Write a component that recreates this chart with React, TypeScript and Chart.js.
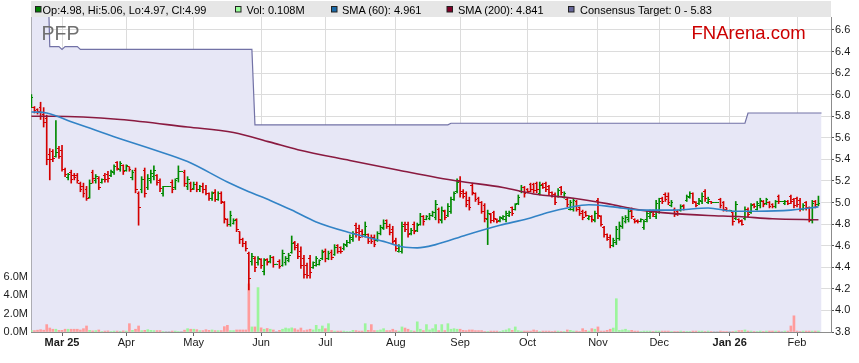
import React, { useEffect, useRef } from 'react';
import { Chart, registerables } from 'chart.js';

Chart.register(...registerables);

const FONT = "'Liberation Sans', Arial, Helvetica, sans-serif";

// weekday index of the first bar (index 0 = Mon 3 Mar 2025)
const FIRST_INDEX = -10;

// [open, high, low, close] per weekday, from 17 Feb 2025 to 11 Feb 2026
const OHLC: number[][] = [
  [5.90,6.00,5.88,5.97],[5.88,5.89,5.83,5.85],[5.86,5.87,5.82,5.84],[5.88,5.93,5.77,5.80],[5.82,5.88,5.70,5.74],[5.78,5.81,5.35,5.40],[5.45,5.50,5.21,5.40],[5.47,5.49,5.38,5.41],[5.43,5.76,5.42,5.46],[5.50,5.52,5.41,5.43],
  [5.48,5.53,5.29,5.31],[5.31,5.32,5.24,5.26],[5.23,5.27,5.21,5.26],[5.28,5.30,5.18,5.21],[5.25,5.27,5.21,5.23],[5.25,5.27,5.18,5.20],[5.18,5.19,5.10,5.12],[5.15,5.18,5.05,5.08],[5.12,5.15,5.02,5.04],[5.05,5.21,5.04,5.18],
  [5.28,5.30,5.18,5.22],[5.20,5.26,5.18,5.24],[5.22,5.24,5.12,5.14],[5.19,5.22,5.18,5.21],[5.25,5.27,5.19,5.21],[5.26,5.29,5.19,5.22],[5.25,5.30,5.24,5.29],[5.28,5.35,5.26,5.33],[5.37,5.38,5.30,5.32],[5.31,5.38,5.29,5.36],
  [5.34,5.35,5.26,5.29],[5.30,5.35,5.29,5.34],[5.33,5.33,5.29,5.31],[5.23,5.30,5.21,5.28],[5.30,5.32,5.09,5.12],[5.08,5.10,4.79,4.95],[5.12,5.24,5.09,5.21],[5.30,5.32,5.05,5.08],[5.14,5.26,5.12,5.22],[5.20,5.30,5.18,5.27],
  [5.24,5.34,5.21,5.30],[5.25,5.26,5.16,5.19],[5.20,5.22,5.10,5.13],[5.08,5.15,5.06,5.15],[5.15,5.15,5.15,5.15],[5.15,5.15,5.15,5.15],[5.19,5.21,5.09,5.12],[5.14,5.22,5.12,5.20],[5.22,5.34,5.19,5.29],[5.29,5.29,5.29,5.29],
  [5.28,5.30,5.15,5.18],[5.15,5.24,5.12,5.21],[5.18,5.19,5.10,5.12],[5.13,5.19,5.12,5.17],[5.17,5.19,5.10,5.12],[5.12,5.16,5.10,5.15],[5.15,5.18,5.09,5.12],[5.12,5.16,5.07,5.08],[5.08,5.09,5.02,5.04],[5.04,5.10,5.02,5.08],
  [5.09,5.12,5.01,5.03],[5.03,5.10,5.02,5.08],[5.08,5.10,4.99,5.01],[5.00,5.01,4.81,4.85],[4.84,4.85,4.78,4.80],[4.80,4.92,4.78,4.88],[4.81,4.85,4.80,4.83],[4.84,4.85,4.73,4.75],[4.73,4.73,4.62,4.66],[4.66,4.67,4.59,4.62],
  [4.62,4.64,4.55,4.57],[4.53,4.54,4.19,4.30],[4.45,4.53,4.42,4.50],[4.48,4.50,4.36,4.40],[4.44,4.50,4.42,4.48],[4.47,4.48,4.39,4.42],[4.36,4.48,4.33,4.46],[4.47,4.48,4.42,4.44],[4.45,4.51,4.44,4.49],[4.49,4.50,4.40,4.43],
  [4.43,4.43,4.43,4.43],[4.45,4.47,4.39,4.41],[4.42,4.56,4.41,4.53],[4.44,4.50,4.42,4.48],[4.46,4.53,4.45,4.51],[4.54,4.69,4.53,4.62],[4.63,4.64,4.56,4.58],[4.60,4.62,4.48,4.50],[4.55,4.59,4.39,4.42],[4.48,4.51,4.30,4.33],
  [4.42,4.44,4.30,4.32],[4.48,4.51,4.30,4.35],[4.40,4.45,4.39,4.44],[4.42,4.50,4.41,4.48],[4.43,4.47,4.42,4.46],[4.48,4.56,4.47,4.54],[4.55,4.57,4.45,4.48],[4.48,4.55,4.47,4.53],[4.54,4.56,4.47,4.49],[4.52,4.61,4.51,4.58],
  [4.60,4.61,4.53,4.55],[4.58,4.59,4.53,4.55],[4.57,4.62,4.56,4.61],[4.60,4.65,4.59,4.63],[4.63,4.70,4.62,4.68],[4.66,4.73,4.64,4.71],[4.79,4.81,4.68,4.72],[4.76,4.79,4.65,4.68],[4.73,4.75,4.68,4.70],[4.70,4.82,4.68,4.78],
  [4.70,4.71,4.62,4.64],[4.68,4.70,4.62,4.64],[4.68,4.70,4.59,4.61],[4.65,4.73,4.64,4.71],[4.71,4.79,4.70,4.77],[4.76,4.84,4.75,4.81],[4.83,4.84,4.76,4.78],[4.78,4.80,4.70,4.72],[4.75,4.78,4.62,4.64],[4.65,4.67,4.55,4.57],
  [4.55,4.61,4.54,4.59],[4.55,4.82,4.53,4.78],[4.80,4.82,4.73,4.75],[4.80,4.82,4.68,4.70],[4.71,4.76,4.70,4.74],[4.80,4.82,4.71,4.73],[4.74,4.81,4.73,4.79],[4.80,4.90,4.79,4.87],[4.87,4.88,4.79,4.82],[4.84,4.88,4.84,4.87],
  [4.85,4.90,4.84,4.88],[4.88,4.92,4.87,4.91],[4.86,5.02,4.84,4.98],[4.94,4.95,4.81,4.84],[4.83,4.96,4.81,4.93],[4.92,4.93,4.84,4.86],[4.88,4.99,4.87,4.96],[4.92,5.05,4.90,5.03],[5.03,5.10,5.02,5.08],[5.10,5.22,5.09,5.19],
  [5.20,5.24,5.05,5.08],[5.10,5.12,5.04,5.06],[5.08,5.10,4.96,4.98],[5.02,5.05,4.93,4.95],[5.16,5.18,5.07,5.09],[5.08,5.09,5.01,5.03],[5.04,5.05,4.98,5.00],[5.00,5.01,4.90,4.92],[4.97,4.99,4.82,4.85],[4.84,4.93,4.61,4.90],
  [4.89,4.90,4.81,4.83],[4.91,4.92,4.82,4.85],[4.84,4.85,4.81,4.82],[4.83,4.87,4.82,4.86],[4.85,4.88,4.84,4.87],[4.84,4.92,4.82,4.90],[4.88,4.92,4.87,4.91],[4.95,4.96,4.88,4.90],[4.94,4.99,4.93,4.98],[4.99,5.07,4.98,5.05],
  [5.10,5.16,5.09,5.14],[5.14,5.15,5.05,5.08],[5.12,5.13,5.09,5.10],[5.17,5.18,5.10,5.12],[5.17,5.18,5.09,5.11],[5.18,5.19,5.09,5.12],[5.08,5.19,5.07,5.16],[5.17,5.18,5.13,5.14],[5.18,5.19,5.10,5.12],[5.15,5.16,5.07,5.09],
  [5.09,5.10,5.05,5.06],[5.07,5.09,4.98,5.00],[5.06,5.13,5.05,5.11],[5.14,5.15,5.07,5.09],[5.05,5.10,5.04,5.08],[5.03,5.04,4.96,4.98],[4.94,5.02,4.93,5.00],[4.94,5.04,4.92,5.02],[5.01,5.02,4.92,4.94],[4.95,4.96,4.88,4.90],
  [4.92,4.93,4.84,4.86],[4.91,4.92,4.87,4.88],[4.85,4.88,4.84,4.87],[4.87,4.88,4.82,4.84],[4.83,4.92,4.82,4.90],[5.02,5.04,4.85,4.88],[4.87,4.88,4.78,4.80],[4.77,4.78,4.68,4.70],[4.70,4.71,4.65,4.66],[4.68,4.70,4.58,4.60],
  [4.60,4.67,4.59,4.65],[4.63,4.78,4.61,4.75],[4.67,4.82,4.65,4.79],[4.78,4.87,4.76,4.85],[4.82,4.88,4.81,4.86],[4.84,4.95,4.82,4.92],[4.93,4.95,4.85,4.87],[4.84,4.85,4.81,4.82],[4.83,4.84,4.81,4.82],[4.82,4.85,4.82,4.84],
  [4.77,4.84,4.75,4.82],[4.84,4.92,4.82,4.90],[4.87,4.93,4.85,4.91],[4.92,4.93,4.87,4.89],[4.87,5.02,4.85,4.99],[4.93,5.04,4.90,5.01],[5.04,5.05,4.99,5.01],[5.07,5.09,5.01,5.03],[5.06,5.09,4.98,5.00],[4.97,5.02,4.96,5.00],
  [4.94,4.95,4.87,4.89],[4.92,4.93,4.88,4.90],[4.93,4.98,4.92,4.96],[4.97,4.98,4.93,4.94],[5.02,5.07,5.01,5.06],[5.05,5.10,5.04,5.08],[5.08,5.09,4.99,5.01],[5.00,5.01,4.96,4.97],[4.99,5.04,4.98,5.02],[5.01,5.09,4.99,5.06],
  [5.10,5.12,5.01,5.04],[5.00,5.05,4.99,5.03],[5.01,5.01,4.99,5.00],[5.00,5.00,5.00,5.00],[5.00,5.00,5.00,5.00],[5.03,5.04,4.95,4.97],[5.00,5.01,4.92,4.94],[4.95,4.95,4.92,4.93],[4.93,4.93,4.93,4.93],[4.91,4.92,4.79,4.82],
  [4.85,5.01,4.84,4.98],[4.84,4.85,4.81,4.82],[4.83,4.84,4.79,4.80],[4.85,4.96,4.84,4.94],[4.94,4.95,4.87,4.89],[4.91,4.99,4.90,4.97],[4.98,4.99,4.95,4.96],[4.94,5.01,4.93,4.99],[4.97,5.04,4.95,5.02],[5.01,5.02,4.96,4.98],
  [4.99,5.04,4.98,5.03],[5.00,5.01,4.95,4.96],[4.98,4.99,4.95,4.96],[4.96,5.02,4.95,5.01],[5.06,5.07,4.99,5.01],[5.01,5.01,5.01,5.01],[4.99,5.02,4.98,5.01],[5.01,5.02,4.98,4.99],[5.06,5.07,4.99,5.01],[5.03,5.04,4.95,4.97],
  [5.04,5.05,4.96,4.98],[5.02,5.04,4.92,4.94],[4.94,4.99,4.93,4.97],[5.00,5.01,4.93,4.95],[4.95,4.96,4.82,4.84],[4.83,5.02,4.81,4.99],[5.01,5.02,4.95,4.96],[4.98,5.06,4.97,4.99],
];

// daily volume, millions of shares
const VOLUME_M: number[] = [
  0.15,0.15,0.2,0.25,0.2,0.8,0.43,0.3,0.3,0.18,
  0.18,0.3,0.3,0.3,0.3,0.3,0.22,0.36,0.65,0.18,
  0.12,0.15,0.22,0.05,0.1,0.12,0.05,0.1,0.1,0.08,
  0.12,0.1,0.9,0.18,0.3,0.65,0.15,0.18,0.25,0.18,
  0.15,0.15,0.15,0.05,0,0,0.1,0.1,0.05,0,
  0.2,0.36,0.3,0.3,0.25,0.15,0.15,0.25,0.18,0.22,
  0.15,0.15,0.15,0.58,0.72,0.15,0.15,0.22,0.22,0.22,
  0.22,5.2,0.55,0.55,4.8,0.45,0.3,0.38,0.3,0.22,
  0,0.18,0.3,0.43,0.36,0.45,0.36,0.22,0.43,0.15,
  0.22,0.3,0.22,0.72,0.3,0.65,0.36,0.9,0.15,0.1,
  0.1,0.1,0.1,0.05,0.05,0.18,0.15,0.1,0.1,0.9,
  0.18,0.8,0.15,0.15,0.22,0.36,0.15,0.15,0.3,0.15,
  0.1,0.55,0.43,0.3,0.15,0.1,1.1,0.3,0.15,0.8,
  0.22,0.36,0.8,0.15,0.8,0.15,0.9,0.3,0.36,0.3,
  0.3,0.18,0.15,0.22,0.22,0.15,0.15,0.15,0.05,0.05,
  0.1,0.1,0.1,0.05,0.15,0.22,0.36,0.18,0.55,0.15,
  0.1,0.1,0.1,0.1,0.22,0.15,0.05,0.1,0.1,0.1,
  0.05,0.1,0.1,0.05,0.05,0.22,0.18,0.1,0.1,0.05,
  0.36,0.18,0.1,0.36,0.3,0.55,0.1,0.1,0.18,0.3,
  0.43,3.6,0.18,0.22,0.3,0.15,0.18,0.1,0.1,0.05,
  0.1,0.1,0.1,0.05,0.1,0.1,0.1,0.1,0.1,0.05,
  0.05,0.05,0.1,0.05,0.05,0.05,0.1,0.1,0.1,0.1,
  0.05,0.1,0.05,0,0,0.1,0.05,0.05,0,0.05,
  0.1,0.15,0.15,0.22,0.1,0.1,0.05,0.05,0.1,0.05,
  0.1,0.1,0.1,0.1,0.1,0,0.1,0.1,0.65,1.75,
  0.1,0.05,0.1,0.1,0.1,0.1,0.1,0.108,
];

// [weekday index, value]
const SMA60: number[][] = [
  [-10,5.84],[-5,5.83],[3,5.75],[8,5.70],[17,5.61],[30,5.49],[41,5.38],[54,5.19],[61,5.10],[68,5.02],
  [75,4.93],[83,4.82],[94,4.72],[105,4.64],[111,4.59],[116,4.58],[122,4.61],[132,4.70],[143,4.79],[152,4.85],
  [159,4.91],[165,4.95],[172,4.98],[180,4.96],[189,4.93],[200,4.93],[211,4.95],[219,4.92],[227,4.92],[238,4.93],[247,4.96],
];
const SMA200: number[][] = [
  [-10,5.80],[-3,5.80],[19,5.77],[41,5.70],[56,5.65],[68,5.56],[77,5.49],[94,5.39],[110,5.30],[129,5.20],
  [144,5.14],[154,5.08],[167,5.04],[178,4.99],[189,4.93],[199,4.90],[211,4.88],[221,4.87],[232,4.85],[247,4.84],
];
const CONSENSUS: number[][] = [
  [-10,7.5],[-5,7.5],[-4,6.445],[-1,6.445],[0,6.42],[1,6.445],[5,6.445],[6,6.42],[62,6.42],[63,5.72],
  [126,5.72],[127,5.735],[223,5.735],[224,5.83],[248,5.83],
];

const MONTH_TICKS = [0, 21, 43, 65, 86, 109, 130, 152, 175, 195, 218, 240];
const MONTH_LABELS = ['Mar 25', 'Apr', 'May', 'Jun', 'Jul', 'Aug', 'Sep', 'Oct', 'Nov', 'Dec', 'Jan 26', 'Feb'];
const PRICE_TICKS = [3.8, 4.0, 4.2, 4.4, 4.6, 4.8, 5.0, 5.2, 5.4, 5.6, 5.8, 6.0, 6.2, 6.4, 6.6];
const VOLUME_TICKS = [0, 2, 4, 6];

export default function App() {
  const ref = useRef<HTMLCanvasElement>(null);

  useEffect(() => {
    const canvas = ref.current;
    if (!canvas) return;
    document.body.style.margin = '0';
    const GREEN = '#008a00';
    const RED = '#d40000';
    const mkTick = (color: string, left: boolean) => {
      const cv = document.createElement('canvas');
      cv.width = 4;
      cv.height = 1;
      const g = cv.getContext('2d')!;
      g.fillStyle = color;
      g.fillRect(left ? 0 : 2, 0, 2, 1);
      return cv;
    };
    const openG = mkTick(GREEN, true);
    const openR = mkTick(RED, true);
    const closeG = mkTick(GREEN, false);
    const closeR = mkTick(RED, false);

    const xs = OHLC.map((_, k) => FIRST_INDEX + k);
    const up = OHLC.map((b) => b[3] >= b[0]);
    const barColors = up.map((u) => (u ? GREEN : RED));
    const volColors = OHLC.map((b) => (b[3] > b[0] ? '#9cf59c' : b[3] < b[0] ? '#ff9c9c' : '#8c8c8c'));

    const chart = new Chart(canvas, {
      type: 'bar',
      data: {
        datasets: [
          {
            type: 'line',
            label: 'Consensus Target',
            data: CONSENSUS.map(([x, y]) => ({ x, y })),
            borderColor: '#7272a6',
            borderWidth: 1.2,
            backgroundColor: '#e7e7f6',
            fill: 'start',
            pointRadius: 0,
            tension: 0,
            xAxisID: 'x',
            yAxisID: 'y',
            order: 10,
          } as any,
          {
            type: 'bar',
            label: 'Vol',
            data: VOLUME_M.map((v, k) => ({ x: xs[k], y: v })),
            backgroundColor: volColors,
            barThickness: 2,
            grouped: false,
            borderWidth: 0,
            xAxisID: 'x',
            yAxisID: 'yv',
            order: 9,
          } as any,
          {
            type: 'bar',
            label: 'Range',
            data: OHLC.map((b, k) => ({ x: xs[k], y: [b[2], b[1]] })),
            backgroundColor: barColors,
            barThickness: 1,
            grouped: false,
            borderWidth: 0,
            xAxisID: 'x',
            yAxisID: 'y',
            order: 5,
          } as any,
          {
            type: 'line',
            label: 'Open',
            data: OHLC.map((b, k) => ({ x: xs[k], y: b[0] })),
            showLine: false,
            pointRadius: 2,
            pointStyle: (ctx: any) => (up[ctx.dataIndex] ? openG : openR),
            xAxisID: 'x',
            yAxisID: 'y',
            order: 4,
          } as any,
          {
            type: 'line',
            label: 'Close',
            data: OHLC.map((b, k) => ({ x: xs[k], y: b[3] })),
            showLine: false,
            pointRadius: 2,
            pointStyle: (ctx: any) => (up[ctx.dataIndex] ? closeG : closeR),
            xAxisID: 'x',
            yAxisID: 'y',
            order: 4,
          } as any,
          {
            type: 'line',
            label: 'SMA (200)',
            data: SMA200.map(([x, y]) => ({ x, y })),
            borderColor: '#8a1a40',
            borderWidth: 1.6,
            pointRadius: 0,
            fill: false,
            cubicInterpolationMode: 'monotone',
            xAxisID: 'x',
            yAxisID: 'y',
            order: 2,
          } as any,
          {
            type: 'line',
            label: 'SMA (60)',
            data: SMA60.map(([x, y]) => ({ x, y })),
            borderColor: '#3283c6',
            borderWidth: 1.6,
            pointRadius: 0,
            fill: false,
            cubicInterpolationMode: 'monotone',
            xAxisID: 'x',
            yAxisID: 'y',
            order: 1,
          } as any,
        ],
      },
      options: {
        responsive: false,
        animation: false,
        devicePixelRatio: 1,
        events: [],
        layout: { padding: { top: 17, left: 0, right: 0, bottom: 0 } },
        plugins: { legend: { display: false }, tooltip: { enabled: false } },
        scales: {
          x: {
            type: 'linear',
            position: 'bottom',
            min: -10.13,
            max: 251.1,
            offset: false,
            afterFit: (s: any) => {
              s.height = 31;
            },
            afterBuildTicks: (s: any) => {
              s.ticks = MONTH_TICKS.map((v) => ({ value: v }));
            },
            ticks: {
              autoSkip: false,
              maxRotation: 0,
              padding: 0,
              color: '#1a1a1a',
              font: (ctx: any) => {
                const i = MONTH_TICKS.indexOf(ctx.tick ? ctx.tick.value : -1);
                const lab = i >= 0 ? MONTH_LABELS[i] : '';
                return { family: FONT, size: 11, weight: lab.indexOf(' ') >= 0 ? 'bold' : 'normal' };
              },
              callback: (v: any) => {
                const i = MONTH_TICKS.indexOf(Number(v));
                return i >= 0 ? MONTH_LABELS[i] : '';
              },
            },
            grid: { color: '#dcdcdc', tickLength: 4, tickColor: '#666', offset: false },
            border: { display: true, color: '#8c8c8c' },
          },
          y: {
            type: 'linear',
            position: 'right',
            min: 3.8,
            max: 6.72,
            beginAtZero: false,
            afterFit: (s: any) => {
              s.width = 28;
            },
            afterBuildTicks: (s: any) => {
              s.ticks = PRICE_TICKS.map((v) => ({ value: v }));
            },
            ticks: {
              padding: 1,
              color: '#1a1a1a',
              font: { family: FONT, size: 11 },
              callback: (v: any) => Number(v).toFixed(1),
            },
            grid: { color: '#dcdcdc', tickLength: 3, tickColor: '#555' },
            border: { display: true, color: '#8c8c8c' },
          },
          yv: {
            type: 'linear',
            position: 'left',
            min: 0,
            max: 34.05,
            afterFit: (s: any) => {
              s.width = 31;
            },
            afterBuildTicks: (s: any) => {
              s.ticks = VOLUME_TICKS.map((v) => ({ value: v }));
            },
            ticks: {
              padding: 3,
              color: '#1a1a1a',
              font: { family: FONT, size: 11 },
              callback: (v: any) => Number(v).toFixed(1) + 'M',
            },
            grid: { drawOnChartArea: false, drawTicks: false },
            border: { display: true, color: '#8c8c8c' },
          },
        },
      } as any,
    });
    return () => chart.destroy();
  }, []);

  return (
    <div style={{ position: 'fixed', left: 0, top: 0, width: 859, height: 363, background: '#fff' }}>
      <canvas ref={ref} width={859} height={363} style={{ position: 'absolute', left: 0, top: 0, width: 859, height: 363 }} />
      <svg width={859} height={363} style={{ position: 'absolute', left: 0, top: 0, pointerEvents: 'none' }} fontFamily={FONT}>
        <rect x={31} y={1} width={800} height={16} fill="#e6e6e6" />
        <rect x={35.5} y={6.5} width={5.5} height={5.5} fill="#008000" stroke="#222" strokeWidth={1} />
        <text x={42.5} y={13.5} fontSize={11} fill="#000">Op:4.98, Hi:5.06, Lo:4.97, Cl:4.99</text>
        <rect x={235.5} y={6.5} width={5.5} height={5.5} fill="#99ff99" stroke="#222" strokeWidth={1} />
        <text x={246.5} y={13.5} fontSize={11} fill="#000">Vol: 0.108M</text>
        <rect x={331.5} y={6.5} width={5.5} height={5.5} fill="#1a6aa8" stroke="#222" strokeWidth={1} />
        <text x={342} y={13.5} fontSize={11} fill="#000">SMA (60): 4.961</text>
        <rect x={447} y={6.5} width={5.5} height={5.5} fill="#800028" stroke="#222" strokeWidth={1} />
        <text x={458} y={13.5} fontSize={11} fill="#000">SMA (200): 4.841</text>
        <rect x={568.5} y={6.5} width={5.5} height={5.5} fill="#66669a" stroke="#222" strokeWidth={1} />
        <text x={580} y={13.5} fontSize={11} fill="#000">Consensus Target: 0 - 5.83</text>
        <text x={41.5} y={39.5} fontSize={19.5} fill="#707070">PFP</text>
        <text x={691.5} y={38.5} fontSize={18.5} fill="#cc0000">FNArena.com</text>
      </svg>
    </div>
  );
}
